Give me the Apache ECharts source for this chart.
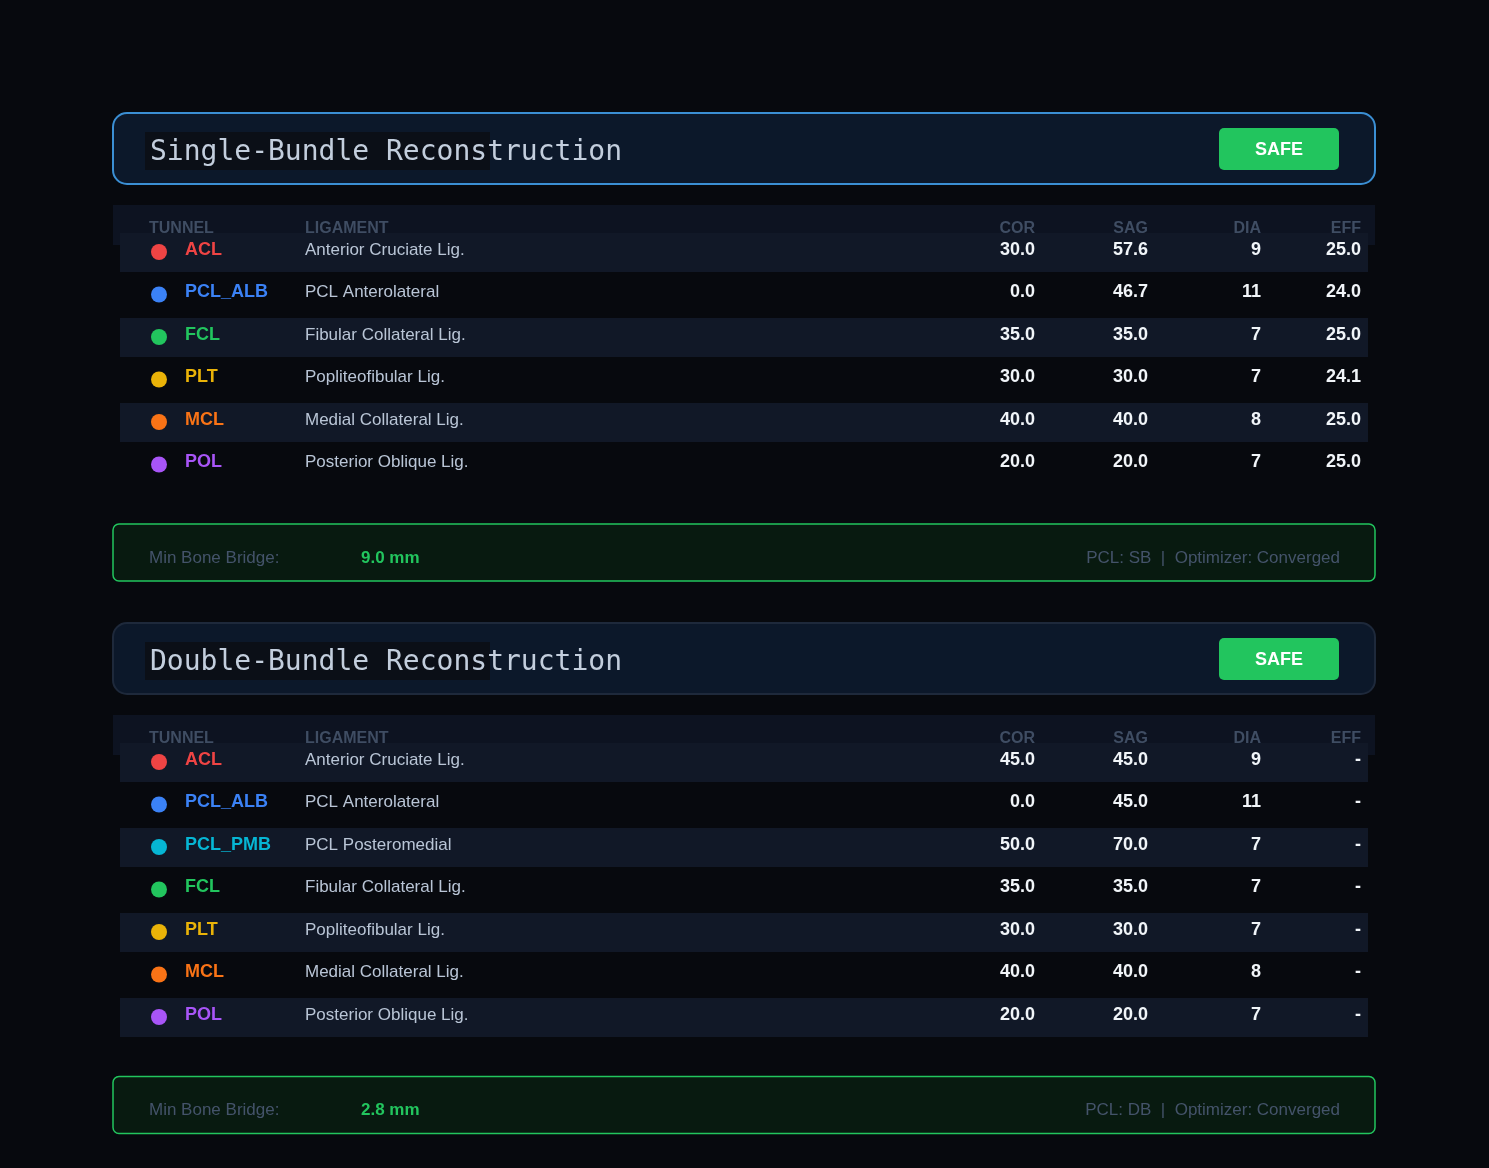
<!DOCTYPE html>
<html><head><meta charset="utf-8">
<style>html,body{margin:0;padding:0;background:#07090e;}#main{width:1489px;height:1168px;}</style>
<script src="https://cdn.jsdelivr.net/npm/echarts@6/dist/echarts.min.js"></script>
</head><body><div id="main"></div>
<script>
var chart = echarts.init(document.getElementById('main'));

// data
var headers = ['TUNNEL', 'LIGAMENT', 'COR', 'SAG', 'DIA', 'EFF'];
var sbCodes = ['ACL', 'PCL_ALB', 'FCL', 'PLT', 'MCL', 'POL'];
var sbNames = ['Anterior Cruciate Lig.', 'PCL Anterolateral', 'Fibular Collateral Lig.', 'Popliteofibular Lig.', 'Medial Collateral Lig.', 'Posterior Oblique Lig.'];
var sbCor = ['30.0', '0.0', '35.0', '30.0', '40.0', '20.0'];
var sbSag = ['57.6', '46.7', '35.0', '30.0', '40.0', '20.0'];
var sbDia = ['9', '11', '7', '7', '8', '7'];
var sbEff = ['25.0', '24.0', '25.0', '24.1', '25.0', '25.0'];
var dbCodes = ['ACL', 'PCL_ALB', 'PCL_PMB', 'FCL', 'PLT', 'MCL', 'POL'];
var dbNames = ['Anterior Cruciate Lig.', 'PCL Anterolateral', 'PCL Posteromedial', 'Fibular Collateral Lig.', 'Popliteofibular Lig.', 'Medial Collateral Lig.', 'Posterior Oblique Lig.'];
var dbCor = ['45.0', '0.0', '50.0', '35.0', '30.0', '40.0', '20.0'];
var dbSag = ['45.0', '45.0', '70.0', '35.0', '30.0', '40.0', '20.0'];
var dbDia = ['9', '11', '7', '7', '7', '8', '7'];
var dbEff = ['-', '-', '-', '-', '-', '-', '-'];
var codeColors = {ACL: '#ef4444', PCL_ALB: '#3b82f6', PCL_PMB: '#06b6d4', FCL: '#22c55e', PLT: '#eab308', MCL: '#f97316', POL: '#a855f7'};

var els = [];
function txt(x, y, s, o) {
    els.push({type: 'text', x: x, y: y, style: Object.assign({text: s, fontFamily: 'Helvetica, Arial, Liberation Sans', textVerticalAlign: 'middle'}, o)});
}
function rect(x, y, w, h, o) {
    els.push({type: 'rect', shape: {x: x, y: y, width: w, height: h, r: o.r || 0}, style: o.style});
}

function panel(top, title, border, codes, names, cor, sag, dia, eff, bridge, pcl) {
    // header box
    rect(113, top, 1262, 71, {r: 14, style: {fill: '#0c182a', stroke: border, lineWidth: 2}});
    rect(145, top + 19, 345, 38, {style: {fill: '#0b0f17'}});
    txt(150, top + 40, title, {fontFamily: 'DejaVu Sans Mono', fontSize: 28, fill: '#c3cedd', fontWeight: 'lighter'});
    rect(1219, top + 15, 120, 42, {r: 5, style: {fill: '#22c55e'}});
    txt(1279, top + 37, 'SAFE', {fontSize: 18, fontWeight: 'bold', fill: '#ffffff', textAlign: 'center'});
    // table header
    var th = top + 92;
    rect(113, th, 1262, 40, {style: {fill: '#0d1321'}});
    var hx = [149, 305, 1035, 1148, 1261, 1361];
    headers.forEach(function (h, i) {
        txt(hx[i], th + 24, h, {fontSize: 16, fontWeight: 'bold', fill: '#3f4d63', textAlign: i < 2 ? 'left' : 'right'});
    });
    var y0 = th + 44;
    codes.forEach(function (c, i) {
        var y = y0 + i * 42.5;
        if (i % 2 === 0) rect(120, y - 16, 1248, 39, {style: {fill: '#111827'}});
        els.push({type: 'circle', shape: {cx: 159, cy: y + 3, r: 8}, style: {fill: codeColors[c]}});
        txt(185, y + 1, c, {fontSize: 18, fontWeight: 'bold', fill: codeColors[c]});
        txt(305, y + 1, names[i], {fontSize: 17, fill: '#b9c5d6'});
        [cor[i], sag[i], dia[i], eff[i]].forEach(function (v, j) {
            txt(hx[j + 2], y + 1, v, {fontSize: 18, fontWeight: 'bold', fill: '#f1f5f9', textAlign: 'right'});
        });
    });
    // footer
    var fy = y0 + codes.length * 42.5 + 20;
    rect(113, fy, 1262, 57, {r: 6, style: {fill: '#081a10', stroke: '#22c55e', lineWidth: 1.5}});
    txt(149, fy + 34, 'Min Bone Bridge:', {fontSize: 17, fill: '#44536a'});
    txt(361, fy + 34, bridge, {fontSize: 17, fontWeight: 'bold', fill: '#22c55e'});
    txt(1340, fy + 34, pcl + '  |  Optimizer: Converged', {fontSize: 17, fill: '#44536a', textAlign: 'right'});
}

panel(113, 'Single-Bundle Reconstruction', '#3b8fd4', sbCodes, sbNames, sbCor, sbSag, sbDia, sbEff, '9.0 mm', 'PCL: SB');
panel(623, 'Double-Bundle Reconstruction', '#1e293b', dbCodes, dbNames, dbCor, dbSag, dbDia, dbEff, '2.8 mm', 'PCL: DB');

chart.setOption({backgroundColor: '#07090e', graphic: {elements: els}});
</script></body></html>
